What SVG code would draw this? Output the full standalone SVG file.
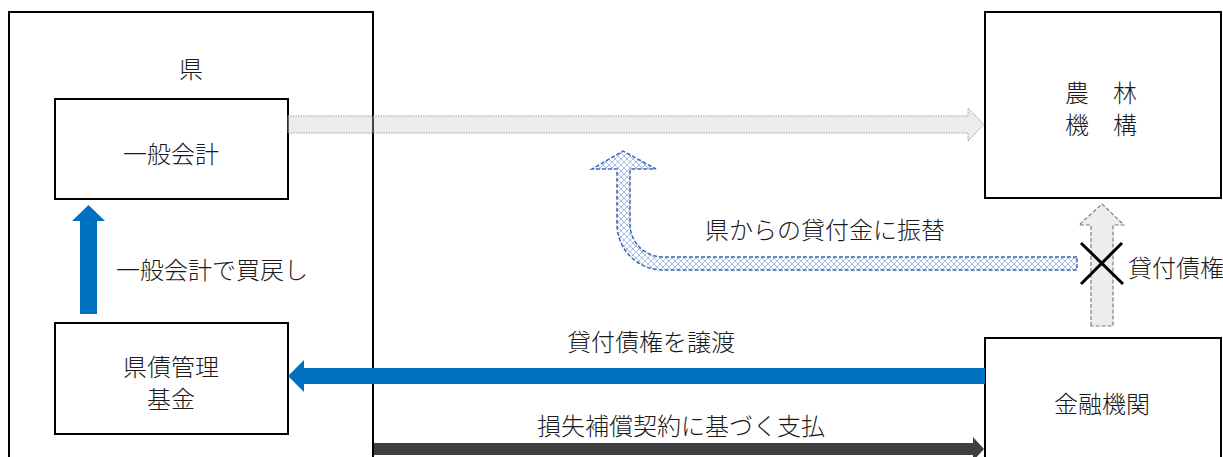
<svg xmlns="http://www.w3.org/2000/svg" width="1223" height="457" viewBox="0 0 1223 457">
  <defs>
    <pattern id="hatch" width="6" height="6" patternUnits="userSpaceOnUse">
      <rect width="6" height="6" fill="#ffffff"/>
      <path d="M0 0 L6 6 M6 0 L0 6" stroke="#9DB7E3" stroke-width="0.9"/>
    </pattern>
    <style>
      .box { fill: #ffffff; stroke: #000000; stroke-width: 2; }
      .outer { fill: none; stroke: #000000; stroke-width: 2; }
      .t { font-family: "Noto Sans CJK JP", "Noto Sans CJK SC", sans-serif; font-size: 24px; font-weight: 300; fill: #1a1a1a; dominant-baseline: central; }
      .c { text-anchor: middle; }
      .blue { fill: #0070C0; }
      .dark { fill: #404040; }
      .gray { fill: #C8C8C8; fill-opacity: 0.35; stroke: #A0A0A0; stroke-width: 1; stroke-dasharray: 1.5 1; }
      .gray2 { fill: #EDEDED; stroke: #7F7F7F; stroke-width: 1.2; stroke-dasharray: 4 2; }
      .curve { fill: url(#hatch); stroke: #3F66B0; stroke-width: 1.5; stroke-dasharray: 4 2; }
      .x { stroke: #000000; stroke-width: 3; }
    </style>
  </defs>
  <rect width="1223" height="457" fill="#ffffff"/>

  <g id="ken">
    <rect class="outer" x="9" y="12" width="364" height="460"/>
    <text class="t c" x="191" y="67">県</text>
  </g>
  <g id="ippan">
    <rect class="box" x="55" y="99" width="233" height="100"/>
    <text class="t c" x="171" y="152">一般会計</text>
  </g>
  <g id="kensai">
    <rect class="box" x="55" y="323" width="233" height="111"/>
    <text class="t c" x="171" y="365"><tspan x="171" y="365">県債管理</tspan><tspan x="171" y="397">基金</tspan></text>
  </g>
  <g id="norin">
    <rect class="box" x="985" y="12" width="236" height="186"/>
    <text class="t c" x="1101" y="91" xml:space="preserve"><tspan x="1101" y="91">農　林</tspan><tspan x="1101" y="123">機　構</tspan></text>
  </g>
  <g id="kinyu">
    <rect class="box" x="985" y="338" width="236" height="130"/>
    <text class="t c" x="1102" y="402">金融機関</text>
  </g>

  <g id="connectors">
    <path class="gray" d="M288 116 L968 116 L968 108 L984 124.5 L968 141 L968 133 L288 133 Z"/>
    <path class="curve" d="M1077 257 L663 257 A33 33 0 0 1 630 224 L630 169 L656 169 L623 151 L592 169 L617 169 L617 224 A46 46 0 0 0 663 270 L1077 270 Z"/>
    <path class="gray2" d="M1091 326 L1091 225 L1079 225 L1102 204 L1124 225 L1113 225 L1113 326 Z"/>
    <line class="x" x1="1081" y1="243" x2="1123" y2="284"/>
    <line class="x" x1="1122" y1="243" x2="1081" y2="284"/>
    <path class="blue" d="M80 314 L80 221 L72 221 L88.5 205 L105 221 L97 221 L97 314 Z"/>
    <path class="blue" d="M985 368 L304 368 L304 360 L288 376 L304 392 L304 384 L985 384 Z"/>
    <path class="dark" d="M374 443 L973 443 L973 437 L984 449 L973 461 L973 455 L374 455 Z"/>
    <text class="t" x="116" y="268">一般会計で買戻し</text>
    <text class="t c" x="825" y="228">県からの貸付金に振替</text>
    <text class="t" x="1128" y="266">貸付債権</text>
    <text class="t c" x="651" y="340">貸付債権を譲渡</text>
    <text class="t c" x="681" y="424">損失補償契約に基づく支払</text>
  </g>
</svg>
